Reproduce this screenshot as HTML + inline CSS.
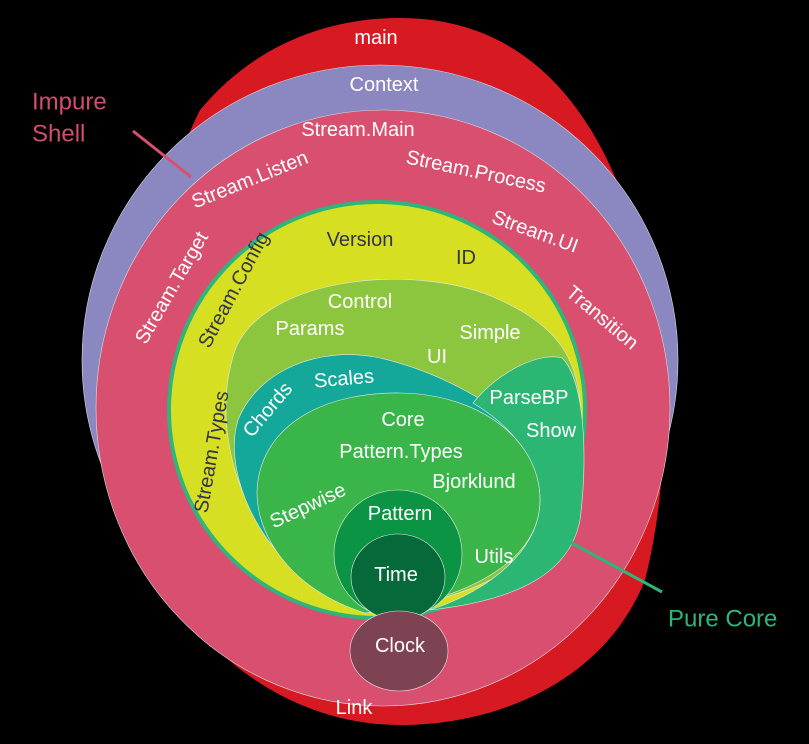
<!DOCTYPE html>
<html><head><meta charset="utf-8"><style>
html,body{margin:0;padding:0;background:#000;}
svg{display:block;}
text{font-family:"Liberation Sans",sans-serif;font-size:20px;fill:#fff;text-anchor:middle;dominant-baseline:central;}
.d{fill:#33334a;}
</style></head><body>
<svg width="809" height="744" viewBox="0 0 809 744" xmlns="http://www.w3.org/2000/svg">
<rect width="809" height="744" fill="#000"/>
<path d="M400,18 C520,18 600,100 640,250 C670,370 670,480 645,580 C605,680 500,725 400,725 C300,725 210,665 162,578 C130,450 130,250 200,110 C250,50 320,18 400,18 Z" fill="#d71a22"/>
<ellipse cx="380" cy="360" rx="298" ry="295" fill="#8b87c0" stroke="#ddd" stroke-width="0.6"/>
<ellipse cx="383" cy="408" rx="287" ry="298" fill="#d84f70" stroke="#ddd" stroke-width="0.6"/>
<circle cx="377" cy="410" r="208" fill="#d6df21" stroke="#2db57a" stroke-width="4"/>
<path d="M365,613 C250,570 205,440 235,350 C265,275 420,262 500,300 C555,325 575,355 580,400 C585,500 560,590 365,613 Z" fill="#8cc63f" stroke="#e8e8e8" stroke-width="0.6"/>
<path d="M365,613 C270,580 220,480 238,420 C258,370 320,345 380,358 C440,372 490,402 515,425 L420,600 Z" fill="#14a89b" stroke="#e8e8e8" stroke-width="0.6"/>
<path d="M473,403 C500,370 540,352 562,358 C585,380 588,460 580,520 C570,572 520,600 430,610 C490,590 540,550 540,500 C540,460 510,425 473,403 Z" fill="#2bb673" stroke="#e8e8e8" stroke-width="0.6"/>
<path d="M365,613 C290,590 250,530 258,480 C268,420 330,392 400,393 C480,394 540,440 540,500 C540,560 470,600 365,613 Z" fill="#39b54a" stroke="#e8e8e8" stroke-width="0.6"/>
<circle cx="398" cy="554" r="64" fill="#0b9444" stroke="#e8e8e8" stroke-width="0.6"/>
<ellipse cx="398" cy="577" rx="47" ry="43" fill="#05693a" stroke="#e8e8e8" stroke-width="0.6"/>
<ellipse cx="399" cy="651" rx="49" ry="40" fill="#7d4352" stroke="#e8e8e8" stroke-width="0.6"/>
<line x1="133" y1="131" x2="191" y2="177" stroke="#d84f70" stroke-width="3"/>
<line x1="557" y1="535" x2="662" y2="592" stroke="#2db57a" stroke-width="3"/>
<text x="376" y="38">main</text>
<text x="384" y="85">Context</text>
<text x="358" y="130">Stream.Main</text>
<text transform="translate(250,180) rotate(-22)">Stream.Listen</text>
<text transform="translate(476,172) rotate(12)">Stream.Process</text>
<text transform="translate(535,232) rotate(20)">Stream.UI</text>
<text transform="translate(602,318) rotate(40)">Transition</text>
<text transform="translate(172,288) rotate(-60)">Stream.Target</text>
<text class="d" transform="translate(234,290) rotate(-62)">Stream.Config</text>
<text class="d" transform="translate(212,452) rotate(-80)">Stream.Types</text>
<text class="d" x="360" y="240">Version</text>
<text class="d" x="466" y="258">ID</text>
<text x="360" y="302">Control</text>
<text x="310" y="329">Params</text>
<text x="490" y="333">Simple</text>
<text x="437" y="357">UI</text>
<text transform="translate(344,379) rotate(-5)">Scales</text>
<text transform="translate(268,410) rotate(-50)">Chords</text>
<text x="529" y="398">ParseBP</text>
<text x="551" y="431">Show</text>
<text x="403" y="420">Core</text>
<text x="401" y="452">Pattern.Types</text>
<text x="474" y="482">Bjorklund</text>
<text transform="translate(308,506) rotate(-25)">Stepwise</text>
<text x="400" y="514">Pattern</text>
<text x="494" y="557">Utils</text>
<text x="396" y="575">Time</text>
<text x="400" y="646">Clock</text>
<text x="354" y="708">Link</text>
<text x="32" y="102" style="fill:#d14f6e;font-size:24px;text-anchor:start">Impure</text>
<text x="32" y="134" style="fill:#d14f6e;font-size:24px;text-anchor:start">Shell</text>
<text x="668" y="619" style="fill:#2db57a;font-size:24px;text-anchor:start">Pure Core</text>
</svg>
</body></html>
